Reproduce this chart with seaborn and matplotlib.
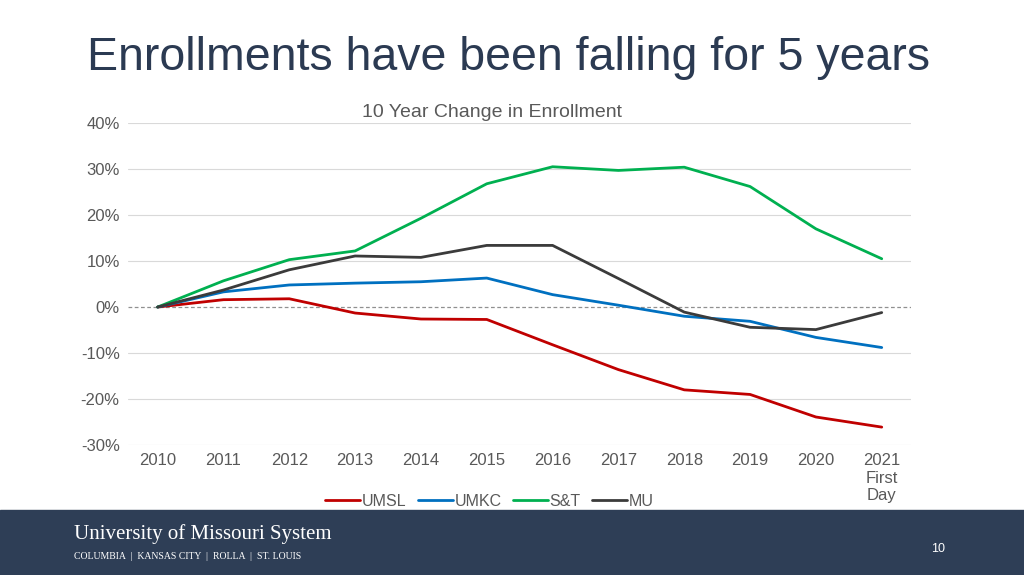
import matplotlib
matplotlib.use("Agg")
import matplotlib.pyplot as plt
import seaborn as sns
import pandas as pd

years = ["2010","2011","2012","2013","2014","2015","2016","2017","2018","2019","2020","2021\nFirst\nDay"]
umsl = [0,1.6,1.8,-1.3,-2.6,-2.7,-8.2,-13.6,-18.0,-19.0,-23.9,-26.1]
umkc = [0,3.3,4.8,5.2,5.5,6.3,2.7,0.4,-2.0,-3.1,-6.6,-8.8]
snt = [0,5.7,10.3,12.2,19.3,26.8,30.5,29.7,30.4,26.2,17.0,10.5]
mu = [0,3.7,8.1,11.1,10.8,13.4,13.4,6.2,-1.1,-4.4,-4.9,-1.2]
series = {"UMSL": umsl, "UMKC": umkc, "S&T": snt, "MU": mu}
colors = {"UMSL": "#C00000", "UMKC": "#0070C0", "S&T": "#00B050", "MU": "#3B3B3B"}

rows = []
for name, vals in series.items():
    for i, v in enumerate(vals):
        rows.append({"x": i, "val": v, "School": name})
df = pd.DataFrame(rows)

sns.set_style("white")
plt.rcParams['font.family'] = ['Liberation Sans', 'DejaVu Sans']
fig = plt.figure(figsize=(10.24, 5.75), dpi=100)
ax = fig.add_axes([0.125, 0.226, 0.765, 0.56])
sns.lineplot(data=df, x="x", y="val", hue="School", palette=colors, linewidth=2, ax=ax, legend=False)
ax.set_xlim(-0.45, 11.45)
ax.set_ylim(-30, 40)
ax.set_yticks(range(-30, 41, 10))
ax.set_yticklabels([f"{t}%" for t in range(-30, 41, 10)], color="#595959", fontsize=12)
ax.set_xticks(range(12))
ax.set_xticklabels(years, color="#595959", fontsize=12, va="top", linespacing=1.2)
ax.tick_params(length=0, pad=6)
for t in range(-30, 41, 10):
    if t != 0:
        ax.axhline(t, color="#D9D9D9", lw=0.8, zorder=0)
ax.axhline(0, color="#909090", lw=0.9, ls=(0, (3, 2)), zorder=0)
for s in ax.spines.values():
    s.set_visible(False)
ax.set_xlabel(""); ax.set_ylabel("")
ax.text(0.465, 1.005, "10 Year Change in Enrollment", transform=ax.transAxes, ha="center", va="bottom",
        color="#595959", fontsize=14)
from matplotlib.lines import Line2D
handles = [Line2D([], [], color=colors[k], lw=2) for k in series]
fig.legend(handles, list(series), loc="center", bbox_to_anchor=(0.478, 0.128), ncol=4, frameon=False,
           fontsize=11.5, labelcolor="#595959", handlelength=2.2, handletextpad=0.1, columnspacing=0.7)
fig.text(0.085, 0.9, "Enrollments have been falling for 5 years", fontsize=33.5, color="#2B3A52", va="center")
fig.patches.append(plt.Rectangle((0, 0), 1, 0.113, transform=fig.transFigure, color="#2E3E56", zorder=-1))
fig.text(0.072, 0.072, "University of Missouri System", fontsize=15, color="white", family=["Liberation Serif"], va="center")
fig.text(0.072, 0.033, "COLUMBIA  |  KANSAS CITY  |  ROLLA  |  ST. LOUIS", fontsize=7, color="white", family=["Liberation Serif"], va="center")
fig.text(0.909, 0.045, "10", fontsize=9, color="white", va="center")
fig.savefig("out.png", dpi=100)
